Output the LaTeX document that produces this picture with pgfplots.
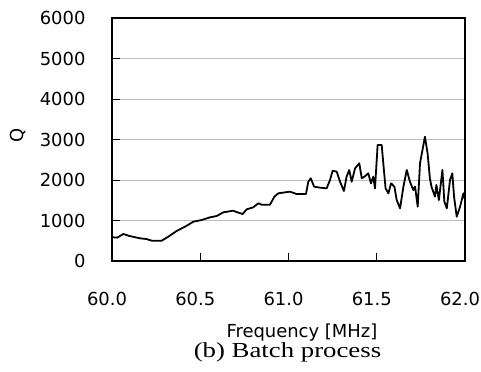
\documentclass[border=0pt]{standalone}
\usepackage{pgfplots}
\pgfplotsset{compat=1.18}
\usepackage{fontspec}
\setmainfont{Liberation Serif}
\newfontfamily\sansf{DejaVu Sans}
\begin{document}
\begin{tikzpicture}[x=1bp,y=1bp]
\useasboundingbox (0,0) rectangle (481,371);
\begin{axis}[
  at={(112bp,110bp)}, anchor=south west,
  scale only axis, width=353bp, height=243bp,
  xmin=60, xmax=62, ymin=0, ymax=6000,
  xtick={60,60.5,61,61.5,62},
  xticklabels={60.0,60.5,61.0,61.5,62.0},
  ytick={0,1000,2000,3000,4000,5000,6000},
  yticklabels={0,1000,2000,3000,4000,5000,6000},
  scaled ticks=false,
  ymajorgrids, grid style={draw=black!25, line width=1bp},
  tick align=inside, tick pos=left,
  major tick length=8bp,
  every tick/.style={black, line width=1bp},
  axis line style={line width=1.2bp},
  ticklabel style={font=\sansf\fontsize{18}{21}\selectfont},
  xticklabel style={yshift=-28bp, xshift=-5bp},
  yticklabel style={xshift=-23bp},
  xlabel={Frequency [MHz]},
  xlabel style={font=\sansf\fontsize{18}{21}\selectfont, at={(axis description cs:0.538,-0.3128)}, anchor=base},
  ylabel={Q},
  ylabel style={font=\sansf\fontsize{18}{21}\selectfont, at={(axis description cs:-0.266,0.5185)}, anchor=center},
]
\addplot[black, line width=1.8bp, line join=round] coordinates {
(60.000,600) (60.007,585) (60.030,577) (60.064,667) (60.100,617)
(60.159,560) (60.195,543) (60.225,502) (60.282,502) (60.319,601)
(60.366,741) (60.414,848) (60.461,971) (60.508,1012) (60.555,1078)
(60.593,1111) (60.631,1202) (60.687,1243) (60.705,1210) (60.740,1160)
(60.763,1276) (60.800,1325) (60.829,1424) (60.848,1391) (60.895,1391)
(60.920,1588) (60.942,1671) (61.008,1712) (61.046,1654) (61.099,1654)
(61.112,1958) (61.126,2042) (61.145,1835) (61.180,1810) (61.216,1794)
(61.235,2000) (61.250,2230) (61.273,2206) (61.292,1958) (61.314,1728)
(61.329,2082) (61.344,2247) (61.358,1958) (61.377,2288) (61.401,2412)
(61.415,2042) (61.430,2082) (61.452,2165) (61.467,1918) (61.480,2082)
(61.490,1794) (61.505,2864) (61.528,2864) (61.537,2412) (61.550,1794)
(61.566,1671) (61.581,1918) (61.600,1835) (61.613,1506) (61.632,1301)
(61.651,1835) (61.670,2247) (61.688,1958) (61.707,1753) (61.717,1835)
(61.732,1341) (61.745,2412) (61.773,3069) (61.788,2659) (61.801,2042)
(61.810,1835) (61.830,1588) (61.838,1877) (61.852,1506) (61.872,2247)
(61.883,1465) (61.897,1301) (61.915,2000) (61.928,2165) (61.938,1588)
(61.953,1094) (61.972,1341) (61.991,1671) (62.000,1506)
};
\end{axis}
\node[anchor=base, inner sep=0] at (287.5,14) {\scalebox{1.25}[1]{\fontsize{21.5}{24}\selectfont (b) Batch process}};
\end{tikzpicture}
\end{document}
